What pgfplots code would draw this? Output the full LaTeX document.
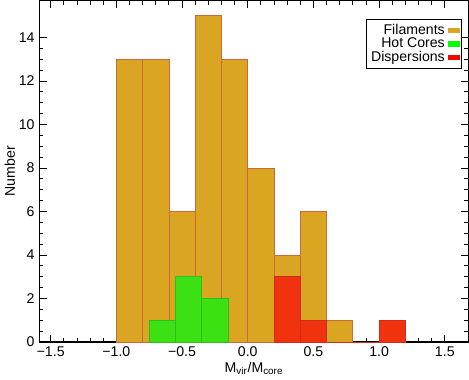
\documentclass[border=0pt]{standalone}
\usepackage{fontspec}
\setmainfont{Liberation Sans}
\usepackage{pgfplots}
\pgfplotsset{compat=1.18}
\definecolor{filF}{RGB}{218,165,32}
\definecolor{filE}{RGB}{205,105,60}
\definecolor{hotF}{RGB}{60,225,20}
\definecolor{hotE}{RGB}{45,190,25}
\definecolor{disF}{RGB}{240,50,15}
\definecolor{disE}{RGB}{205,45,30}
\begin{document}
\begin{tikzpicture}
\begin{axis}[
  scale only axis,
  width=304pt, height=242pt,
  xmin=-1.585, xmax=1.68,
  ymin=0, ymax=15.7,
  xtick={-1.5,-1,-0.5,0,0.5,1,1.5},
  xticklabels={−1.5,−1.0,−0.5,0.0,0.5,1.0,1.5},
  minor x tick num=4,
  ytick={0,2,...,14},
  minor y tick num=3,
  tick align=inside,
  major tick length=5pt,
  minor tick length=2.8pt,
  every tick/.style={black, line width=0.6pt},
  axis line style={line width=0.8pt},
  /pgf/number format/assume math mode=true,
  ticklabel style={font=\normalsize},
  xlabel={M\textsubscript{vir}/M\textsubscript{core}},
  xlabel style={at={(axis description cs:0.5,0)}, anchor=center, yshift=-18.5pt},
  legend style={at={(0.985,0.947)}, anchor=north east, draw=black, line width=0.5pt,
    font=\normalsize, inner xsep=1.5pt, inner ysep=1.5pt, row sep=-3pt},
  legend plot pos=right,
  legend cell align=right,
]
\addplot[ybar interval, fill=filF, draw=filE, line width=0.5pt,
  legend image code/.code={\fill[filF] (0cm,-0.055cm) rectangle (0.28cm,0.055cm);}]
  coordinates {(-1,13) (-0.8,13) (-0.6,6) (-0.4,15) (-0.2,13) (0,8) (0.2,4) (0.4,6) (0.6,1) (0.8,0) (1.0,1) (1.2,1)};
\addplot[ybar interval, fill=hotF, draw=hotE, line width=0.5pt,
  legend image code/.code={\fill[green] (0cm,-0.055cm) rectangle (0.28cm,0.055cm);}]
  coordinates {(-0.75,1) (-0.55,3) (-0.35,2) (-0.15,2)};
\addplot[ybar interval, fill=disF, draw=disE, line width=0.5pt,
  legend image code/.code={\fill[red] (0cm,-0.055cm) rectangle (0.28cm,0.055cm);}]
  coordinates {(0.2,3) (0.4,1) (0.6,0) (0.8,0) (1.0,1) (1.2,1)};
\legend{Filaments,Hot Cores,Dispersions}
\end{axis}
\node[rotate=90, anchor=center] at (-21pt,121pt) {Number};
\end{tikzpicture}
\end{document}
